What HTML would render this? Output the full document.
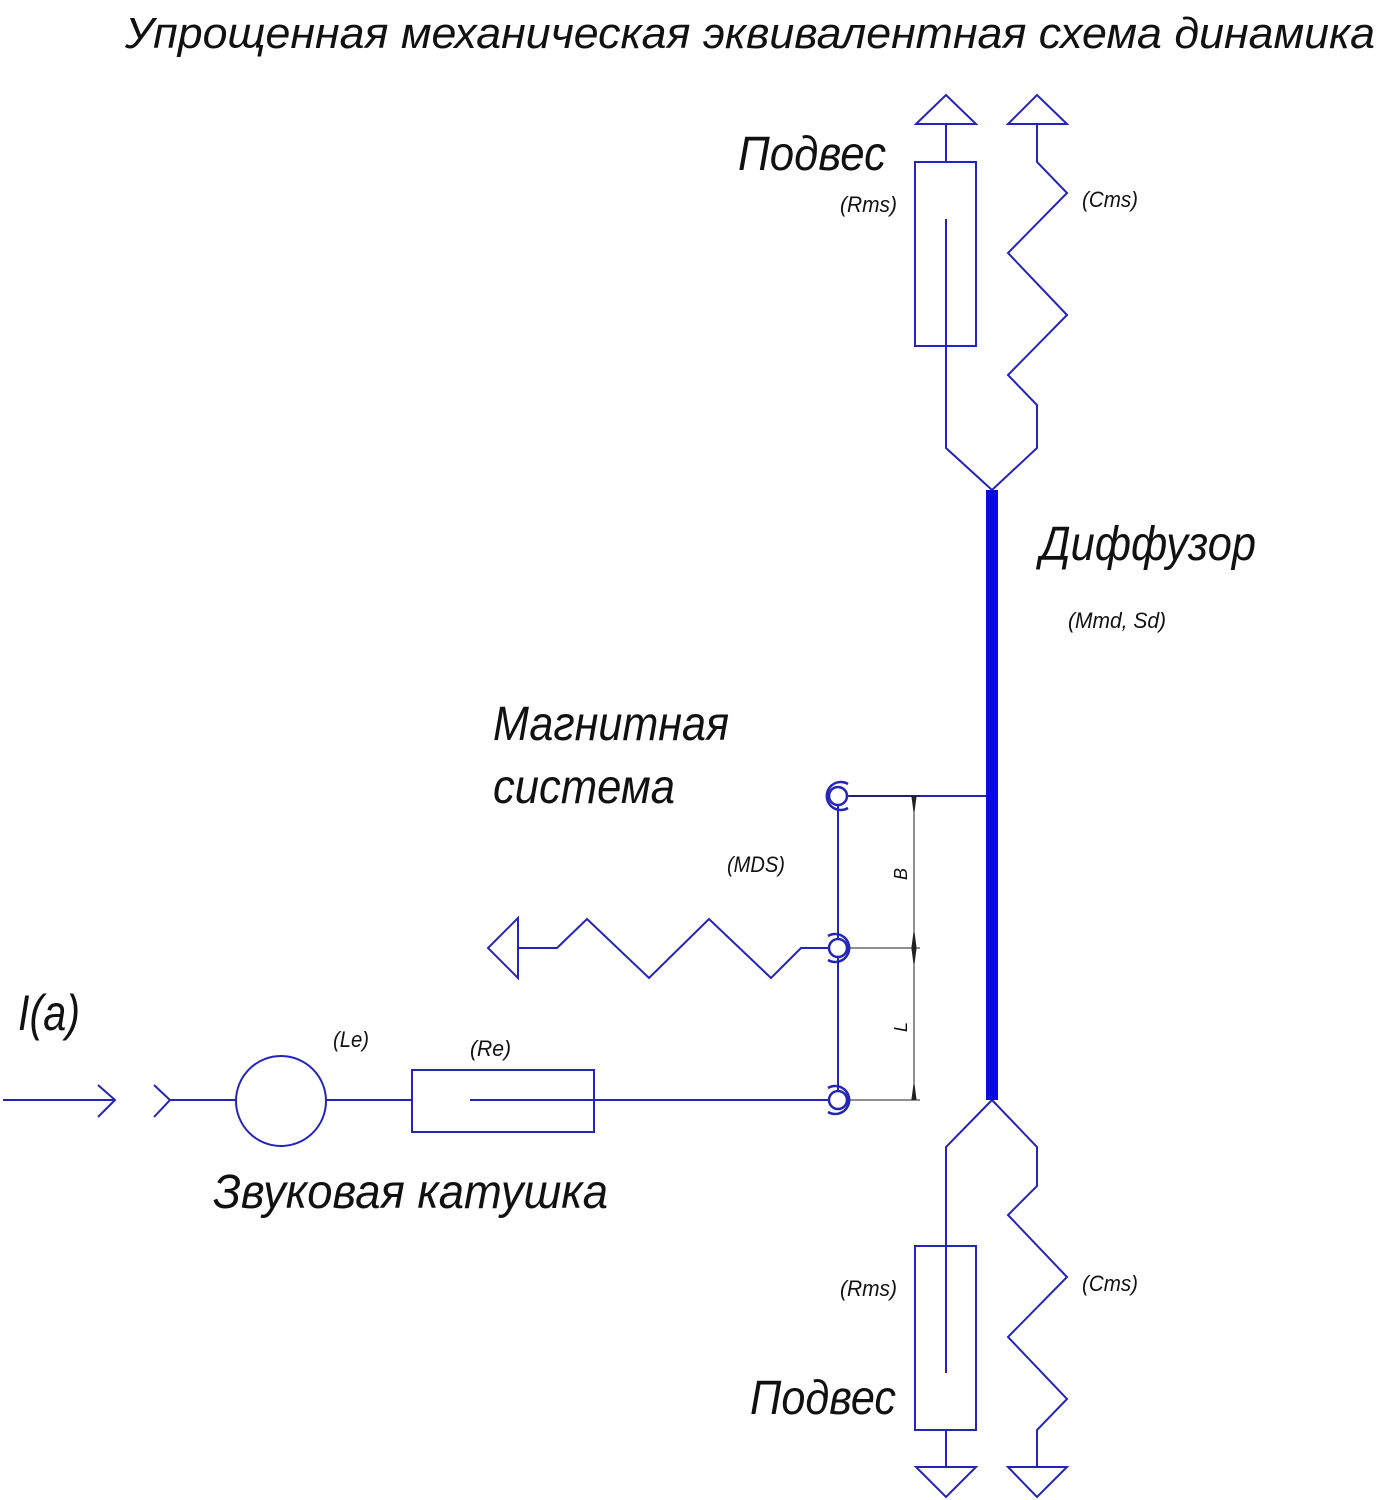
<!DOCTYPE html>
<html><head><meta charset="utf-8"><style>
html,body{margin:0;padding:0;background:#fff;}
svg{display:block;}
text{font-family:"Liberation Sans","DejaVu Sans",sans-serif;font-style:italic;fill:#111;}
</style></head><body>
<svg width="1381" height="1500" viewBox="0 0 1381 1500" xmlns="http://www.w3.org/2000/svg">
<g fill="none" stroke="#2424b8" stroke-width="2">
<polygon points="916,124 976,124 946,95"/>
<polygon points="1008,124 1067,124 1037,95"/>
<line x1="946" y1="124" x2="946" y2="162"/>
<rect x="915" y="162" width="61" height="184"/>
<polyline points="946,219 946,448 992,490 1037,448 1037,405 1008,375 1067,315 1008,253 1067,193 1037,162 1037,124"/>
<polyline points="946,1373 946,1147 992,1100 1037,1147 1037,1186 1008,1215 1067,1277 1008,1337 1067,1399 1037,1430 1037,1467"/>
<rect x="915" y="1246" width="61" height="184"/>
<line x1="946" y1="1430" x2="946" y2="1467"/>
<polygon points="916,1467 976,1467 946,1497"/>
<polygon points="1008,1467 1067,1467 1037,1497"/>
<line x1="847" y1="796" x2="986" y2="796"/>
<line x1="838" y1="805" x2="838" y2="939"/>
<line x1="838" y1="957" x2="838" y2="1091"/>
<g stroke-width="2.5">
<circle cx="838" cy="796" r="9"/><path d="M848,784 A14,14 0 1 0 848,808"/>
<circle cx="838" cy="948" r="9"/><path d="M828,936 A14,14 0 1 1 828,960"/>
<circle cx="838" cy="1100" r="9"/><path d="M828,1088 A14,14 0 1 1 828,1112"/>
</g>
<polygon points="518,918 518,978 488,948"/>
<polyline points="518,948 557,948 587,919 649,978 709,919 771,978 801,948 829,948"/>
<line x1="3" y1="1100" x2="115" y2="1100"/>
<polyline points="98,1085 115,1100 98,1117"/>
<polyline points="154,1085 170,1100 154,1117"/>
<line x1="170" y1="1100" x2="236" y2="1100"/>
<circle cx="281" cy="1101" r="45"/>
<line x1="326" y1="1100" x2="412" y2="1100"/>
<rect x="412" y="1070" width="182" height="62"/>
<line x1="470" y1="1100" x2="829" y2="1100"/>
</g>
<rect x="986" y="490" width="12" height="610" fill="#0a0ae6"/>
<g stroke="#222" stroke-width="1" fill="#222">
<line x1="850" y1="796" x2="920" y2="796"/>
<line x1="850" y1="948" x2="920" y2="948"/>
<line x1="850" y1="1100" x2="920" y2="1100"/>
<line x1="914" y1="796" x2="914" y2="1100"/>
<polygon points="912,797 916,797 914,812"/>
<polygon points="912,947 916,947 914,932"/>
<polygon points="912,949 916,949 914,964"/>
<polygon points="912,1099 916,1099 914,1084"/>
</g>
<text x="125" y="48" font-size="44" textLength="1250" lengthAdjust="spacingAndGlyphs">Упрощенная механическая эквивалентная схема динамика</text>
<text x="738" y="170" font-size="48" textLength="148" lengthAdjust="spacingAndGlyphs">Подвес</text>
<text x="840" y="212" font-size="22" textLength="57" lengthAdjust="spacingAndGlyphs">(Rms)</text>
<text x="1082" y="207" font-size="22" textLength="56" lengthAdjust="spacingAndGlyphs">(Cms)</text>
<text x="1040" y="560" font-size="48" textLength="216" lengthAdjust="spacingAndGlyphs">Диффузор</text>
<text x="1068" y="628" font-size="22" textLength="98" lengthAdjust="spacingAndGlyphs">(Mmd, Sd)</text>
<text x="493" y="740" font-size="48" textLength="236" lengthAdjust="spacingAndGlyphs">Магнитная</text>
<text x="493" y="803" font-size="48" textLength="182" lengthAdjust="spacingAndGlyphs">система</text>
<text x="727" y="872" font-size="22" textLength="58" lengthAdjust="spacingAndGlyphs">(MDS)</text>
<text transform="translate(907,880) rotate(-90)" font-size="18">B</text>
<text transform="translate(907,1032) rotate(-90)" font-size="18">L</text>
<text x="18" y="1030" font-size="50" textLength="62" lengthAdjust="spacingAndGlyphs">I(a)</text>
<text x="333" y="1047" font-size="22" textLength="36" lengthAdjust="spacingAndGlyphs">(Le)</text>
<text x="470" y="1056" font-size="22" textLength="41" lengthAdjust="spacingAndGlyphs">(Re)</text>
<text x="213" y="1208" font-size="48" textLength="395" lengthAdjust="spacingAndGlyphs">Звуковая катушка</text>
<text x="840" y="1296" font-size="22" textLength="57" lengthAdjust="spacingAndGlyphs">(Rms)</text>
<text x="1082" y="1291" font-size="22" textLength="56" lengthAdjust="spacingAndGlyphs">(Cms)</text>
<text x="750" y="1414" font-size="48" textLength="146" lengthAdjust="spacingAndGlyphs">Подвес</text>
</svg>
</body></html>
